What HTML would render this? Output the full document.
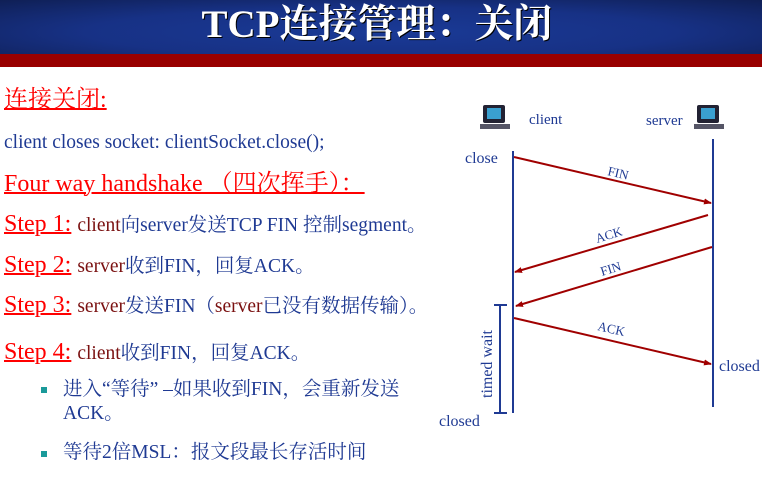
<!DOCTYPE html>
<html><head><meta charset="utf-8"><style>
body{margin:0;width:765px;height:483px;background:#fff;position:relative;overflow:hidden;font-family:"Liberation Serif","Noto Serif CJK SC",serif}
.t{position:absolute;white-space:nowrap;line-height:1}
.r{color:#f00;text-decoration:underline;text-decoration-thickness:1.5px}
.b{color:#1f3a93}
.d{color:#7a1010}
.s{font-size:24px}
.m{font-size:19.5px}
.sq{position:absolute;width:6px;height:6px;background:#1a9a9a}
</style></head><body>
<div style="position:absolute;left:0;top:0;width:762px;height:54px;background:radial-gradient(ellipse at 50% 60%,#1a3a96 0%,#173185 55%,#0f1f55 100%)"></div>
<div style="position:absolute;left:0;top:54px;width:762px;height:13px;background:#990000"></div>
<div class="t" style="left:0;width:754px;top:5px;text-align:center;color:#fff;font-size:39px;font-weight:bold;text-shadow:1px 1px 0 #000">TCP连接管理：关闭</div>

<div class="t r s" style="left:4px;top:88px">连接关闭:</div>
<div class="t b m" style="left:4px;top:133px">client closes socket: clientSocket.close();</div>
<div class="t r s" style="left:4px;top:172px">Four way handshake （四次挥手）：</div>
<div class="t s" style="left:4px;top:212px"><span class="r">Step 1:</span> <span class="m"><span class="d">client</span><span class="b">向server发送TCP FIN 控制segment。</span></span></div>
<div class="t s" style="left:4px;top:253px"><span class="r">Step 2:</span> <span class="m"><span class="d">server</span><span class="b">收到FIN，回复ACK。</span></span></div>
<div class="t s" style="left:4px;top:293px"><span class="r">Step 3:</span> <span class="m"><span class="d">server</span><span class="b">发送FIN（</span><span class="d">server</span><span class="b">已没有数据传输）。</span></span></div>
<div class="t s" style="left:4px;top:340px"><span class="r">Step 4:</span> <span class="m"><span class="d">client</span><span class="b">收到FIN，回复ACK。</span></span></div>
<div class="sq" style="left:41px;top:387px"></div>
<div class="t b m" style="left:63px;top:380px">进入“等待” –如果收到FIN，会重新发送</div>
<div class="t b m" style="left:63px;top:404px">ACK。</div>
<div class="sq" style="left:41px;top:451px"></div>
<div class="t b m" style="left:63px;top:443px">等待2倍MSL：报文段最长存活时间</div>

<svg width="765" height="483" style="position:absolute;left:0;top:0" font-family="Liberation Serif, serif">
<defs><marker id="a" markerWidth="8" markerHeight="6" refX="7" refY="3" orient="auto" markerUnits="userSpaceOnUse"><path d="M0,0L8,3L0,6z" fill="#a00000"/></marker></defs>
<g fill="#1f3a93">
<rect x="483" y="105" width="22" height="18" rx="2" fill="#223"/><rect x="487" y="108" width="14" height="11" fill="#3aa0d0"/><rect x="480" y="124" width="30" height="5" fill="#556"/>
<rect x="697" y="105" width="22" height="18" rx="2" fill="#223"/><rect x="701" y="108" width="14" height="11" fill="#3aa0d0"/><rect x="694" y="124" width="30" height="5" fill="#556"/>
<text x="529" y="124" font-size="15">client</text>
<text x="646" y="125" font-size="15">server</text>
<text x="465" y="163" font-size="16">close</text>
<text x="439" y="426" font-size="16">closed</text>
<text x="719" y="371" font-size="16">closed</text>
<text font-size="13" transform="translate(607,175) rotate(13)">FIN</text>
<text font-size="13" transform="translate(597,243) rotate(-17)">ACK</text>
<text font-size="13" transform="translate(602,276) rotate(-17)">FIN</text>
<text font-size="13" transform="translate(597,330) rotate(13)">ACK</text>
<text font-size="16" transform="translate(492,398) rotate(-90)">timed wait</text>
</g>
<g stroke="#1f3a93" stroke-width="2">
<line x1="513" y1="151" x2="513" y2="413"/>
<line x1="713" y1="139" x2="713" y2="407"/>
<line x1="500" y1="305" x2="500" y2="413"/>
<line x1="494" y1="305" x2="507" y2="305"/>
<line x1="494" y1="413" x2="507" y2="413"/>
</g>
<g stroke="#a00000" stroke-width="2" marker-end="url(#a)">
<line x1="514" y1="157" x2="711" y2="203"/>
<line x1="708" y1="215" x2="515" y2="272"/>
<line x1="712" y1="247" x2="516" y2="306"/>
<line x1="514" y1="318" x2="711" y2="364"/>
</g>
</svg>
</body></html>
